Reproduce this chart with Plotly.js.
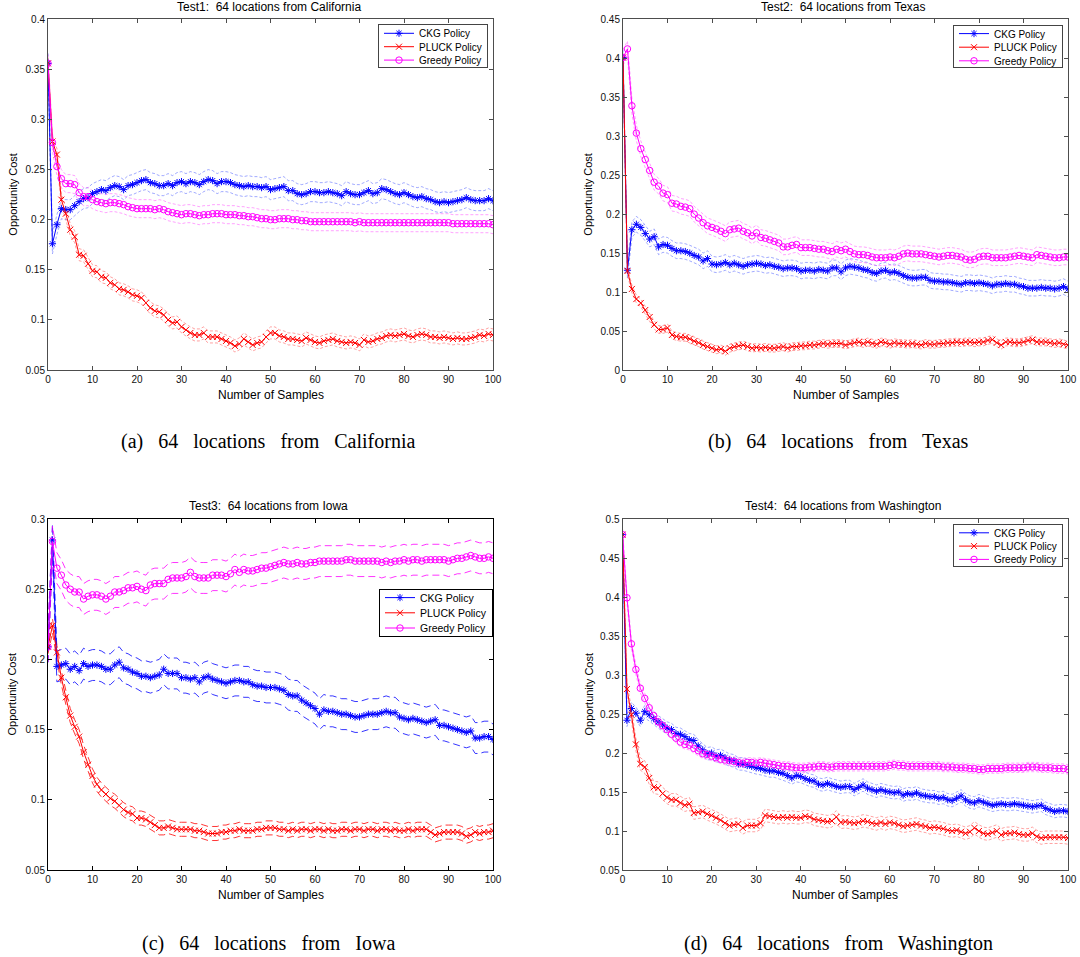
<!DOCTYPE html>
<html><head><meta charset="utf-8">
<script src="https://cdn.plot.ly/plotly-3.0.1.min.js"></script>
<style>body{margin:0;background:#fff}#chart{width:1080px;height:957px}</style>
</head><body><div id="chart"></div>
<script>
// ---------------- data ----------------
const samples = Array.from({length: 101}, (_, i) => i);
const seriesNames = ['CKG Policy', 'PLUCK Policy', 'Greedy Policy'];
const xTickLabels = ['0','10','20','30','40','50','60','70','80','90','100'];
const yTickLabelsA = ['0.05','0.1','0.15','0.2','0.25','0.3','0.35','0.4'];
const yTickLabelsB = ['0','0.05','0.1','0.15','0.2','0.25','0.3','0.35','0.4','0.45'];
const yTickLabelsC = ['0.05','0.1','0.15','0.2','0.25','0.3'];
const yTickLabelsD = ['0.05','0.1','0.15','0.2','0.25','0.3','0.35','0.4','0.45','0.5'];
const titles = ['Test1:  64 locations from California','Test2:  64 locations from Texas','Test3:  64 locations from Iowa','Test4:  64 locations from Washington'];
const captions = ['(a)   64   locations   from   California','(b)   64   locations   from   Texas','(c)   64   locations   from   Iowa','(d)   64   locations   from   Washington'];

const ckgA = [.356,.176,.195,.211,.210,.210,.214,.218,.221,.222,
.226,.228,.230,.229,.232,.234,.233,.230,.234,.235,
.237,.239,.240,.237,.236,.234,.234,.236,.234,.237,
.238,.236,.238,.237,.235,.238,.240,.239,.236,.238,
.238,.237,.235,.234,.233,.234,.233,.233,.232,.233,
.230,.231,.232,.233,.229,.229,.226,.225,.226,.228,
.228,.227,.227,.228,.227,.226,.224,.228,.226,.225,
.225,.227,.229,.226,.227,.231,.230,.228,.226,.225,
.227,.225,.223,.222,.223,.221,.220,.218,.217,.218,
.217,.218,.219,.220,.222,.220,.219,.219,.219,.221,.219];
const pluckA = [.356,.278,.265,.220,.206,.190,.183,.165,.164,.156,
.149,.148,.143,.142,.137,.135,.131,.130,.128,.125,
.124,.122,.117,.112,.109,.108,.105,.100,.097,.098,
.093,.090,.087,.085,.085,.087,.083,.083,.083,.081,
.079,.077,.074,.076,.081,.078,.075,.077,.078,.083,
.087,.087,.084,.083,.081,.081,.080,.079,.082,.080,
.078,.077,.079,.080,.081,.079,.078,.077,.078,.077,
.075,.080,.078,.079,.081,.082,.084,.085,.084,.085,
.086,.084,.083,.085,.086,.085,.083,.083,.082,.083,
.082,.081,.082,.081,.081,.082,.083,.085,.084,.086,.085];
const greedyA = [.356,.277,.253,.241,.236,.236,.235,.227,.223,.223,
.220,.218,.217,.216,.217,.217,.216,.215,.213,.212,
.211,.211,.211,.211,.210,.211,.210,.208,.207,.206,
.205,.206,.206,.205,.204,.205,.205,.206,.206,.206,
.205,.205,.205,.204,.204,.203,.203,.202,.201,.201,
.200,.200,.201,.201,.201,.200,.200,.199,.199,.198,
.198,.198,.198,.198,.198,.198,.198,.198,.198,.197,
.198,.197,.197,.197,.197,.197,.197,.197,.197,.197,
.197,.197,.197,.197,.197,.197,.197,.197,.197,.197,
.197,.196,.196,.196,.196,.196,.196,.196,.196,.196,.195];

const ckgB = [.401,.128,.180,.187,.183,.175,.168,.171,.158,.161,
.160,.156,.153,.153,.152,.150,.147,.145,.140,.143,
.136,.135,.136,.138,.135,.137,.135,.133,.135,.136,
.137,.136,.134,.135,.133,.132,.130,.131,.131,.130,
.127,.128,.128,.127,.129,.128,.127,.131,.131,.126,
.131,.133,.132,.131,.129,.128,.125,.124,.127,.128,
.125,.126,.124,.121,.119,.118,.118,.119,.119,.115,
.114,.114,.113,.113,.112,.111,.110,.112,.112,.111,
.112,.111,.110,.108,.110,.110,.111,.110,.110,.108,
.107,.105,.105,.105,.106,.105,.105,.104,.105,.107,.104];
const pluckB = [.401,.127,.104,.091,.086,.077,.068,.058,.052,.052,
.054,.045,.043,.042,.042,.040,.037,.035,.032,.030,
.028,.026,.027,.024,.028,.030,.031,.032,.030,.028,
.029,.028,.029,.028,.028,.029,.030,.028,.030,.030,
.031,.031,.032,.032,.033,.034,.033,.034,.034,.034,
.032,.034,.035,.036,.034,.036,.034,.033,.036,.035,
.033,.035,.034,.034,.033,.034,.033,.032,.034,.033,
.033,.034,.034,.035,.035,.036,.035,.036,.036,.035,
.036,.036,.038,.039,.035,.032,.036,.036,.035,.035,
.036,.038,.039,.036,.036,.036,.035,.034,.035,.033,.032];
const greedyB = [.401,.412,.339,.304,.284,.270,.256,.241,.236,.227,
.225,.214,.213,.210,.209,.207,.200,.195,.189,.185,
.183,.181,.178,.175,.180,.181,.182,.178,.176,.172,
.176,.170,.169,.167,.165,.163,.158,.158,.160,.161,
.157,.157,.157,.156,.155,.155,.153,.152,.155,.153,
.155,.152,.149,.148,.148,.147,.145,.144,.144,.144,
.145,.144,.146,.149,.150,.149,.149,.149,.148,.147,
.146,.145,.146,.147,.147,.146,.145,.142,.141,.142,
.145,.146,.146,.144,.144,.144,.144,.145,.146,.147,
.146,.145,.144,.148,.147,.146,.145,.144,.144,.145,.145];

const ckgC = [.209,.285,.195,.196,.197,.193,.195,.192,.197,.195,
.196,.196,.195,.193,.193,.196,.198,.194,.193,.191,
.190,.188,.188,.187,.188,.189,.193,.190,.190,.190,
.187,.187,.186,.187,.184,.187,.188,.186,.185,.184,
.183,.184,.185,.185,.184,.184,.182,.181,.181,.180,
.180,.180,.179,.178,.175,.174,.174,.171,.169,.167,
.165,.161,.164,.163,.163,.162,.161,.161,.160,.159,
.159,.160,.161,.161,.161,.162,.163,.162,.162,.159,
.158,.157,.158,.157,.156,.155,.156,.157,.153,.153,
.152,.151,.150,.149,.148,.149,.144,.144,.145,.145,.143];
const pluckC = [.209,.224,.205,.187,.173,.160,.152,.145,.134,.125,
.117,.111,.107,.104,.101,.099,.096,.093,.091,.090,
.087,.087,.086,.084,.082,.080,.080,.081,.080,.079,
.079,.079,.079,.078,.078,.077,.076,.076,.076,.077,
.077,.078,.078,.079,.078,.078,.078,.079,.079,.080,
.080,.080,.079,.079,.078,.079,.078,.079,.079,.078,
.079,.079,.078,.079,.078,.078,.079,.079,.078,.079,
.079,.078,.079,.079,.078,.079,.079,.078,.079,.078,
.078,.079,.078,.079,.079,.079,.077,.075,.076,.077,
.077,.077,.077,.076,.074,.075,.077,.076,.077,.077,.078];
const greedyC = [.209,.284,.265,.260,.253,.250,.248,.248,.243,.245,
.246,.246,.245,.243,.245,.248,.248,.249,.251,.251,
.252,.250,.249,.253,.254,.254,.254,.257,.258,.258,
.258,.259,.262,.259,.258,.258,.258,.260,.260,.260,
.259,.261,.264,.262,.264,.263,.263,.264,.265,.265,
.266,.267,.268,.269,.268,.268,.269,.268,.268,.269,
.269,.270,.270,.270,.270,.270,.270,.271,.271,.270,
.270,.270,.270,.270,.270,.269,.270,.269,.270,.270,
.271,.270,.271,.271,.270,.271,.271,.271,.271,.271,
.270,.271,.272,.272,.273,.274,.273,.272,.272,.273,.272];

const ckgD = [.480,.242,.257,.251,.242,.253,.249,.244,.240,.236,
.232,.230,.225,.224,.221,.217,.216,.209,.204,.199,
.200,.196,.197,.194,.191,.190,.186,.186,.184,.183,
.181,.180,.178,.177,.177,.175,.174,.171,.168,.171,
.170,.167,.165,.164,.160,.159,.161,.159,.157,.156,
.157,.157,.153,.156,.159,.155,.153,.151,.153,.151,
.150,.149,.150,.146,.148,.147,.149,.146,.145,.144,
.144,.142,.143,.140,.139,.142,.145,.140,.137,.136,
.139,.137,.135,.133,.134,.135,.134,.134,.135,.134,
.133,.132,.131,.132,.133,.129,.127,.125,.126,.126,.125];
const pluckD = [.480,.282,.249,.211,.186,.182,.168,.156,.155,.148,
.143,.140,.140,.136,.133,.135,.123,.124,.125,.122,
.120,.117,.114,.110,.107,.108,.109,.104,.107,.107,
.107,.110,.120,.119,.118,.117,.118,.117,.118,.117,
.117,.119,.118,.115,.114,.113,.112,.113,.118,.111,
.112,.111,.110,.111,.113,.112,.110,.109,.111,.109,
.111,.110,.108,.106,.107,.108,.109,.107,.106,.104,
.105,.104,.103,.101,.100,.101,.099,.097,.099,.104,
.100,.097,.096,.098,.100,.095,.097,.097,.098,.096,
.095,.095,.097,.093,.091,.092,.092,.092,.092,.092,.091];
const greedyD = [.480,.399,.340,.307,.283,.270,.258,.248,.240,.235,
.230,.224,.219,.214,.211,.210,.206,.203,.199,.198,
.196,.194,.192,.191,.190,.189,.188,.187,.188,.188,
.187,.188,.187,.186,.185,.184,.183,.183,.182,.181,
.181,.181,.182,.182,.183,.183,.182,.182,.183,.183,
.183,.183,.183,.183,.183,.183,.183,.183,.183,.183,
.184,.185,.184,.184,.183,.183,.183,.183,.183,.183,
.183,.183,.182,.182,.182,.181,.181,.181,.180,.180,
.179,.179,.180,.180,.180,.180,.181,.181,.181,.181,
.181,.182,.182,.182,.181,.181,.181,.180,.180,.180,.179];

// confidence band half-widths: [CKG, PLUCK, Greedy]
const bandA = [0.010, 0.006, 0.009];
const bandB = [0.010, 0.005, 0.010];
const bandC = [0.011, 0.005, 0.011];
const bandD = [0.008, 0.008, 0.006];

// ---------------- layout helpers ----------------
const W = 1080, H = 957;
const fx = p => p / W;
const fy = p => 1 - p / H;
const colors = ['#0000ff', '#ff0000', '#ff00ff'];
const bandColorsSoft = ['rgba(40,60,255,0.55)', 'rgba(255,40,40,0.55)', 'rgba(255,60,255,0.6)'];
const symbols = ['asterisk-open', 'x-thin-open', 'circle-open'];
const SANS = 'Liberation Sans, Arial, Helvetica, sans-serif';

const panels = [
  {series:[ckgA,pluckA,greedyA], band:bandA, yt:yTickLabelsA, yr:[0.05,0.4], x:[48,493],   y:[19.3,370], leg:{x:488,y:24,  h:44, first:9.3, step:13.4}, titleY:7,   xt:395, yTitleX:13,  axis:'#4d4d4d', soft:true},
  {series:[ckgB,pluckB,greedyB], band:bandB, yt:yTickLabelsB, yr:[0,0.45],    x:[623,1068], y:[19.3,370], leg:{x:1063,y:25, h:43, first:8.6, step:13.6}, titleY:7,   xt:395, yTitleX:588, axis:'#4d4d4d', soft:true},
  {series:[ckgC,pluckC,greedyC], band:bandC, yt:yTickLabelsC, yr:[0.05,0.3],  x:[48,493],   y:[519,870],  leg:{x:493,y:589, h:48, first:8.6, step:15.2}, titleY:506, xt:895, yTitleX:11,  axis:'#000000', soft:false},
  {series:[ckgD,pluckD,greedyD], band:bandD, yt:yTickLabelsD, yr:[0.05,0.5],  x:[622.5,1068],y:[519,870], leg:{x:1063,y:524,h:43, first:8.8, step:13.3}, titleY:506, xt:895, yTitleX:588, axis:'#4d4d4d', soft:true}
];
const captionY = [441, 441, 943, 943];

const traces = [];
const layout = {
  width: W, height: H, margin: {l:0, r:0, t:0, b:0},
  paper_bgcolor: '#ffffff', plot_bgcolor: '#ffffff',
  showlegend: true, annotations: [], font: {family: SANS, size: 10, color: '#000'}
};

panels.forEach((p, k) => {
  const n = k + 1;
  const xa = 'x' + (n === 1 ? '' : n), ya = 'y' + (n === 1 ? '' : n);
  const xKey = 'xaxis' + (n === 1 ? '' : n), yKey = 'yaxis' + (n === 1 ? '' : n);
  const legKey = 'legend' + (n === 1 ? '' : n);

  p.series.forEach((vals, s) => {
    const hw = p.band[s];
    const bc = p.soft ? bandColorsSoft[s] : colors[s];
    const dash = p.soft ? '3px,2px' : '7px,4px';
    [1, -1].forEach(sign => {
      traces.push({
        x: samples, y: vals.map(v => v + sign * hw), xaxis: xa, yaxis: ya,
        mode: 'lines', line: {color: bc, width: 0.8, dash: dash},
        showlegend: false, hoverinfo: 'skip', legend: legKey
      });
    });
  });
  p.series.forEach((vals, s) => {
    traces.push({
      x: samples, y: vals, xaxis: xa, yaxis: ya, name: seriesNames[s],
      mode: 'lines+markers', legend: legKey,
      line: {color: colors[s], width: 1},
      marker: {symbol: symbols[s], size: s === 2 ? 6.5 : 6, color: colors[s], line: {color: colors[s], width: 1}}
    });
  });

  const yvals = p.yt.map(parseFloat);
  layout[xKey] = {
    domain: [fx(p.x[0]), fx(p.x[1])], anchor: ya, range: [0, 100],
    tickvals: xTickLabels.map(Number), ticktext: xTickLabels,
    ticks: 'inside', ticklen: 4, tickcolor: p.axis, tickwidth: 1,
    showline: true, linecolor: p.axis, linewidth: 1, mirror: 'ticks',
    showgrid: false, zeroline: false, tickfont: {size: 10, color: '#111', family: SANS}
  };
  layout[yKey] = {
    domain: [fy(p.y[1]), fy(p.y[0])], anchor: xa, range: p.yr,
    tickvals: yvals, ticktext: p.yt,
    ticks: 'inside', ticklen: 4, tickcolor: p.axis, tickwidth: 1,
    showline: true, linecolor: p.axis, linewidth: 1, mirror: 'ticks',
    showgrid: false, zeroline: false, tickfont: {size: 10, color: '#111', family: SANS}
  };
  layout[legKey] = {
    x: fx(p.leg.x), y: fy(p.leg.y), xanchor: 'right', yanchor: 'top',
    bgcolor: '#ffffff', bordercolor: p.soft ? '#444' : '#000', borderwidth: 1,
    font: {size: p.soft ? 10 : 10.5, family: SANS, color: '#000'},
    tracegroupgap: 0, itemwidth: 30
  };
  const cx = (p.x[0] + p.x[1]) / 2;
  layout.annotations.push(
    {text: titles[k], xref:'paper', yref:'paper', x: fx(cx - 2), y: fy(p.titleY), xanchor:'center', yanchor:'middle', showarrow:false, font:{size:12, family:SANS, color:'#000'}},
    {text: 'Number of Samples', xref:'paper', yref:'paper', x: fx(cx), y: fy(p.xt), xanchor:'center', yanchor:'middle', showarrow:false, font:{size:12, family:SANS, color:'#000'}},
    {text: 'Opportunity Cost', xref:'paper', yref:'paper', x: fx(p.yTitleX), y: fy((p.y[0] + p.y[1]) / 2), xanchor:'center', yanchor:'middle', textangle:-90, showarrow:false, font:{size:11, family:SANS, color:'#000'}},
    {text: captions[k], xref:'paper', yref:'paper', x: fx(k % 2 === 0 ? 268 : 838), y: fy(captionY[k]), xanchor:'center', yanchor:'middle', showarrow:false, font:{size:20, family:'Liberation Serif, Times New Roman, serif', color:'#000'}}
  );
});

// compact legend rows (MATLAB legends are tighter than Plotly's minimum row height)
function compactLegends(gd) {
  panels.forEach((p, k) => {
    const id = k === 0 ? 'legend' : 'legend' + (k + 1);
    const g = gd.querySelector('g.' + id);
    if (!g) return;
    const items = g.querySelectorAll('g.traces');
    items.forEach((it, i) => {
      const tr = it.getAttribute('transform') || '';
      const m = tr.match(/translate\(\s*([-\d.]+)[ ,]+([-\d.]+)\s*\)/);
      const xOff = m ? parseFloat(m[1]) : 0;
      it.setAttribute('transform', 'translate(' + xOff + ',' + (p.leg.first + i * p.leg.step) + ')');
    });
    const bg = g.querySelector('rect.bg');
    if (bg) bg.setAttribute('height', p.leg.h - 1);
    g.querySelectorAll('clipPath rect').forEach(r => r.setAttribute('height', p.leg.h));
  });
}

Plotly.newPlot('chart', traces, layout, {staticPlot: true, displayModeBar: false}).then(gd => {
  compactLegends(gd);
});
</script>
</body></html>
